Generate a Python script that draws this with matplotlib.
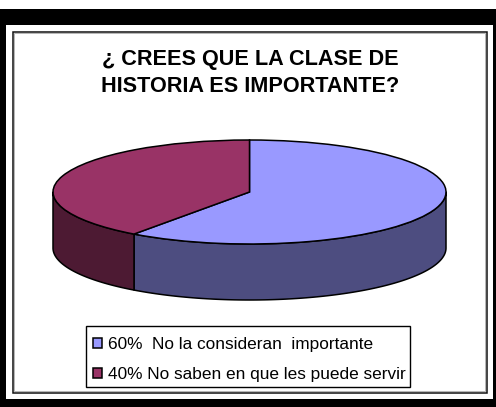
import numpy as np
import matplotlib
matplotlib.use("Agg")
import matplotlib.pyplot as plt
from matplotlib.patches import Rectangle

plt.rcParams['font.family'] = ['Liberation Sans', 'DejaVu Sans']

title = "¿ CREES QUE LA CLASE DE\nHISTORIA ES IMPORTANTE?"
labels = ["60%  No la consideran  importante", "40% No saben en que les puede servir"]
values = [60, 40]
top_colors = ["#9999FF", "#993366"]
side_colors = ["#4D4D80", "#4D1A33"]

W, H = 496, 407
fig = plt.figure(figsize=(W / 100, H / 100), dpi=100, facecolor="white")

bg = fig.add_axes([0, 0, 1, 1])
bg.set_xlim(0, W)
bg.set_ylim(H, 0)
bg.axis("off")
bg.add_patch(Rectangle((0, 8.5), W, H - 8.5, fc="black", ec="none"))
bg.add_patch(Rectangle((6, 24.5), 487, 374, fc="white", ec="none"))
bg.add_patch(Rectangle((14, 33), 471, 358, fc="white", ec="#aaaaaa", lw=0.6))
bg.add_patch(Rectangle((12.5, 31.5), 474, 361, fc="none", ec="#111111", lw=1.1))

x0, x1, y0, y1 = 53, 446, 140, 244
ax = fig.add_axes([x0 / W, 1 - y1 / H, (x1 - x0) / W, (y1 - y0) / H])
ax.patch.set_alpha(0)
depth = 56 / 52

shares = np.array(values, float) / sum(values)
edges = np.concatenate([[0], np.cumsum(shares)]) * 360

for i, col in enumerate(side_colors):
    a = max(edges[i], 90)
    b = min(edges[i + 1], 270)
    if b <= a:
        continue
    t = np.radians(np.linspace(a, b, 120))
    xs = np.sin(t)
    ys = np.cos(t)
    ax.fill(np.r_[xs, xs[::-1]], np.r_[ys, ys[::-1] - depth],
            fc=col, ec="black", lw=1.1, clip_on=False, joinstyle="round")

wedges, _ = ax.pie(values, colors=top_colors, startangle=90, counterclock=False,
                   radius=1, wedgeprops=dict(edgecolor="black", linewidth=1.1, clip_on=False))
ax.set_aspect("auto")
ax.set_xlim(-1, 1)
ax.set_ylim(-1, 1)

fig.text(250 / W, 1 - 73 / H, title, ha="center", va="center", fontsize=15.6,
         fontweight="bold", color="black", linespacing=1.36)

bg.add_patch(Rectangle((86, 326), 324, 61, fc="white", ec="black", lw=1.0))
handles = [Rectangle((0, 0), 1, 1, fc=c, ec="black", lw=1.1) for c in top_colors]
leg = fig.legend(handles, labels, loc="lower left",
                 bbox_to_anchor=(93 / W, 1 - 382 / H),
                 fontsize=12.4, frameon=False, borderaxespad=0, borderpad=0,
                 handlelength=0.52, handleheight=0.52, handletextpad=0.36, labelspacing=0.85)
for t in leg.get_texts():
    t.set_color("black")

fig.savefig("out.png", dpi=100)
